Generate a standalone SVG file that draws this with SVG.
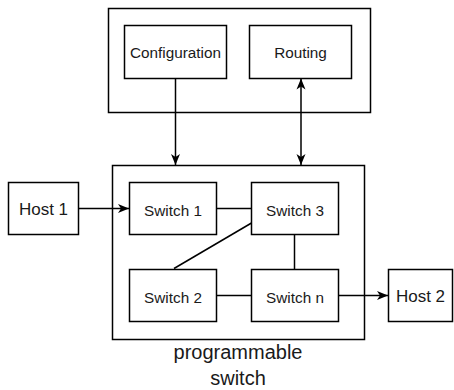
<svg xmlns="http://www.w3.org/2000/svg" width="454" height="390" viewBox="0 0 454 390">
<style>
rect{fill:#fff;stroke:#000;stroke-width:1.5}
text{font-family:"Liberation Sans",Arial,sans-serif;fill:#1a1a1a;text-anchor:middle}
.s{font-size:15.3px}
.h{font-size:17px}
.l{font-size:20px}
.c{stroke:#000;stroke-width:1.5;fill:none}
</style>
<defs>
<marker id="a" markerUnits="userSpaceOnUse" markerWidth="12" markerHeight="10" refX="11" refY="5" orient="auto-start-reverse" viewBox="0 0 12 10">
<path d="M0,0.5 L11,5 L0,9.5 L3,5 z" fill="#000"/>
</marker>
</defs>
<g id="ctrl"><rect x="108.5" y="8.5" width="262" height="104"/></g>
<g id="config"><rect x="124.5" y="25.5" width="102" height="53"/><text class="s" x="175.5" y="58">Configuration</text></g>
<g id="routing"><rect x="249.5" y="25.5" width="102" height="53"/><text class="s" x="300.5" y="58">Routing</text></g>
<g id="pswitch"><rect x="112.5" y="165.5" width="252" height="174"/><text class="l" x="238" y="359">programmable</text><text class="l" x="238" y="385">switch</text></g>
<g id="host1"><rect x="8.5" y="182.5" width="70" height="52"/><text class="h" x="43.5" y="215">Host 1</text></g>
<g id="host2"><rect x="388.5" y="269.5" width="64" height="52"/><text class="h" x="420.5" y="302">Host 2</text></g>
<g id="sw1"><rect x="129.5" y="182.5" width="87" height="52"/><text class="s" x="173" y="215.5">Switch 1</text></g>
<g id="sw3"><rect x="251.5" y="182.5" width="87" height="52"/><text class="s" x="295" y="215.5">Switch 3</text></g>
<g id="sw2"><rect x="129.5" y="269.5" width="87" height="52"/><text class="s" x="173" y="302.5">Switch 2</text></g>
<g id="swn"><rect x="251.5" y="269.5" width="87" height="52"/><text class="s" x="295" y="302.5">Switch n</text></g>
<g id="connectors">
<path class="c" d="M175.5,78.5 V165" marker-end="url(#a)"/>
<path class="c" d="M301,78.5 V165" marker-start="url(#a)" marker-end="url(#a)"/>
<path class="c" d="M78.5,208.5 H129" marker-end="url(#a)"/>
<path class="c" d="M338.5,295.5 H388" marker-end="url(#a)"/>
<path class="c" d="M216.5,208.5 H251.5"/>
<path class="c" d="M216.5,295.5 H251.5"/>
<path class="c" d="M294.5,234.5 V269.5"/>
<path class="c" d="M251.5,223 L174,268.5"/>
</g>
</svg>
